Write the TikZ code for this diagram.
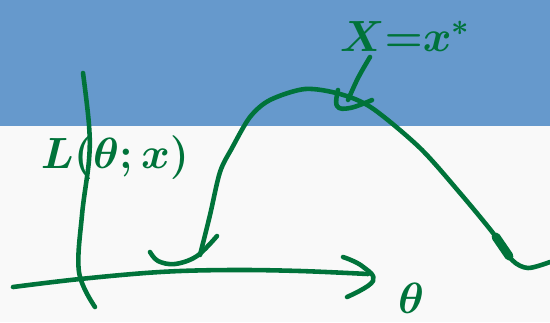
\documentclass[tikz,border=0pt]{standalone}
\usepackage{xcolor}
\definecolor{skyband}{RGB}{102,153,204}
\definecolor{paper}{RGB}{249,249,249}
\definecolor{ink}{RGB}{0,115,58}
\begin{document}
\begin{tikzpicture}[x=0.02cm,y=-0.02cm,
  pen/.style={draw=ink,line width=2.6pt,line cap=round,line join=round},
  lbl/.style={text=ink,inner sep=0pt}]
\fill[paper] (0,0) rectangle (550,322);
\fill[skyband] (0,0) rectangle (550,126);
\useasboundingbox (0,0) rectangle (550,322);
% horizontal axis
\draw[pen] plot[smooth,tension=0.6] coordinates {(13,287) (80,279) (160,272) (230,270) (300,271) (368,274)};
\draw[pen] plot[smooth,tension=0.7] coordinates {(343,257) (362,266) (373,281) (347,297)};
% vertical axis
\draw[pen] plot[smooth,tension=0.6] coordinates {(83,73) (89,125) (89,160) (82,215) (79,272) (95,307)};
% hook at bottom of curve
\draw[pen] plot[smooth,tension=0.6] coordinates {(150,252) (158,261) (175,264) (197,256) (217,236)};
% likelihood curve
\draw[pen] plot[smooth,tension=0.5] coordinates {(200,255) (210,215) (220,172) (232,148) (250,117) (270,100) (305,89) (340,94) (372,108) (420,148) (460,193) (493,233) (512,260) (528,268) (550,262)};
\draw[ink,line width=5pt,line cap=round] (496,237) -- (509,256);
% pointer from label to peak
\draw[pen] plot[smooth,tension=0.6] coordinates {(370,57) (358,78) (348,100)};
\draw[pen] plot[smooth,tension=0.7] coordinates {(338,90) (337,106) (350,108) (372,100)};
% labels
\node[lbl,font=\fontsize{34}{40}\selectfont\boldmath] (lik) at (115,158) {$L(\theta;x)$};
\node[lbl,font=\fontsize{23}{28}\selectfont\boldmath] (obs) at (405,36) {$X{=}x^{*}$};
\node[lbl,font=\fontsize{40}{46}\selectfont\boldmath] (th) at (411,298) {$\theta$};
\end{tikzpicture}
\end{document}
